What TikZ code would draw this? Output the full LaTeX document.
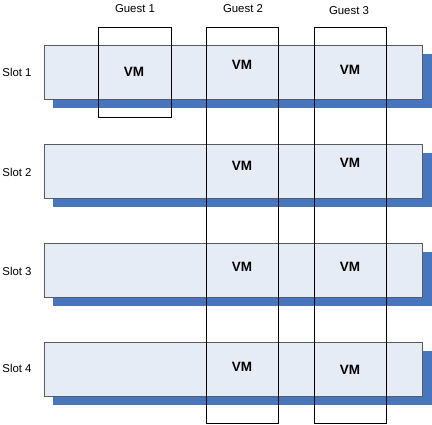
\documentclass[tikz,border=0pt]{standalone}
\usepackage{fontspec}
\setmainfont{Liberation Sans}
\definecolor{barfill}{RGB}{230,236,246}
\definecolor{barline}{RGB}{90,90,90}
\definecolor{shadowblue}{RGB}{71,118,191}
\begin{document}
\begin{tikzpicture}[x=1pt,y=-1pt,
  bar/.style={draw=barline,line width=0.8pt,fill=barfill,anchor=north west,
    minimum width=378.5pt,minimum height=54pt,inner sep=0pt,outer sep=0pt},
  barshadow/.style={fill=shadowblue,anchor=north west,
    minimum width=379pt,minimum height=54pt,inner sep=0pt,outer sep=0pt},
  guestbox/.style={draw=black,line width=1pt,anchor=north west,
    minimum width=72.5pt,inner sep=0pt,outer sep=0pt},
  lbl/.style={font=\fontsize{11.4}{13}\selectfont,inner sep=0pt},
  vm/.style={font=\fontsize{13.5}{15}\selectfont\bfseries,inner sep=0pt}]
\useasboundingbox (0,0) rectangle (432,424);
% shadows
\node[barshadow] (sh1) at (53,54) {};
\node[barshadow] (sh2) at (53,153) {};
\node[barshadow] (sh3) at (53,252) {};
\node[barshadow] (sh4) at (53,351) {};
% bars
\node[bar] (slot1) at (44,45) {};
\node[bar] (slot2) at (44,144) {};
\node[bar] (slot3) at (44,243) {};
\node[bar] (slot4) at (44,342) {};
% slot labels
\node[lbl] (ls1) at (17,72) {Slot 1};
\node[lbl] (ls2) at (17,172) {Slot 2};
\node[lbl] (ls3) at (17,271) {Slot 3};
\node[lbl] (ls4) at (17,368) {Slot 4};
% guest labels
\node[lbl] (lg1) at (135,9) {Guest 1};
\node[lbl] (lg2) at (243,9) {Guest 2};
\node[lbl] (lg3) at (349,11) {Guest 3};
% VM labels
\node[vm] (vm11) at (134,72) {VM};
\node[vm] (vm12) at (242,65) {VM};
\node[vm] (vm13) at (350,70) {VM};
\node[vm] (vm22) at (242,166) {VM};
\node[vm] (vm23) at (350,163) {VM};
\node[vm] (vm32) at (242,267) {VM};
\node[vm] (vm33) at (350,267) {VM};
\node[vm] (vm42) at (242,367) {VM};
\node[vm] (vm43) at (350,370) {VM};
% guest boxes
\node[guestbox,minimum height=90pt] (g1) at (98.5,27) {};
\node[guestbox,minimum height=396pt] (g2) at (206,27) {};
\node[guestbox,minimum height=396pt] (g3) at (314,27) {};
\end{tikzpicture}
\end{document}
